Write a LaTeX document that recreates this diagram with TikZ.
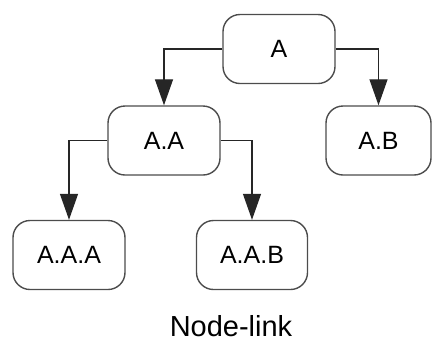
\documentclass[tikz,border=0pt]{standalone}
\usepackage{fontspec}
\setmainfont{Liberation Sans}
\usetikzlibrary{arrows.meta}
\begin{document}
\begin{tikzpicture}[x=1pt,y=-1pt,
  box/.style={draw=black!70,line width=1.4pt,rounded corners=17pt,inner sep=0pt,
    minimum height=69pt,font=\fontsize{25}{29}\selectfont},
  link/.style={draw=black!85,line width=1.3pt,-{Triangle[length=26pt,width=18pt]}}]
\useasboundingbox (0,0) rectangle (433,341);
\node[box,minimum width=112pt] (a) at (279,49) {A};
\node[box,minimum width=112pt] (aa) at (164,140.5) {A.A};
\node[box,minimum width=105pt] (ab) at (378.5,140.5) {A.B};
\node[box,minimum width=112pt] (aaa) at (69,255) {A.A.A};
\node[box,minimum width=111pt] (aab) at (252,255) {A.A.B};
\node[font=\fontsize{29}{33}\selectfont,anchor=base,inner sep=0pt] (cap) at (231,336) {Node-link};
\draw[link] (a.west) -| (aa.north);
\draw[link] (a.east) -| (ab.north);
\draw[link] (aa.west) -| (aaa.north);
\draw[link] (aa.east) -| (aab.north);
\end{tikzpicture}
\end{document}
